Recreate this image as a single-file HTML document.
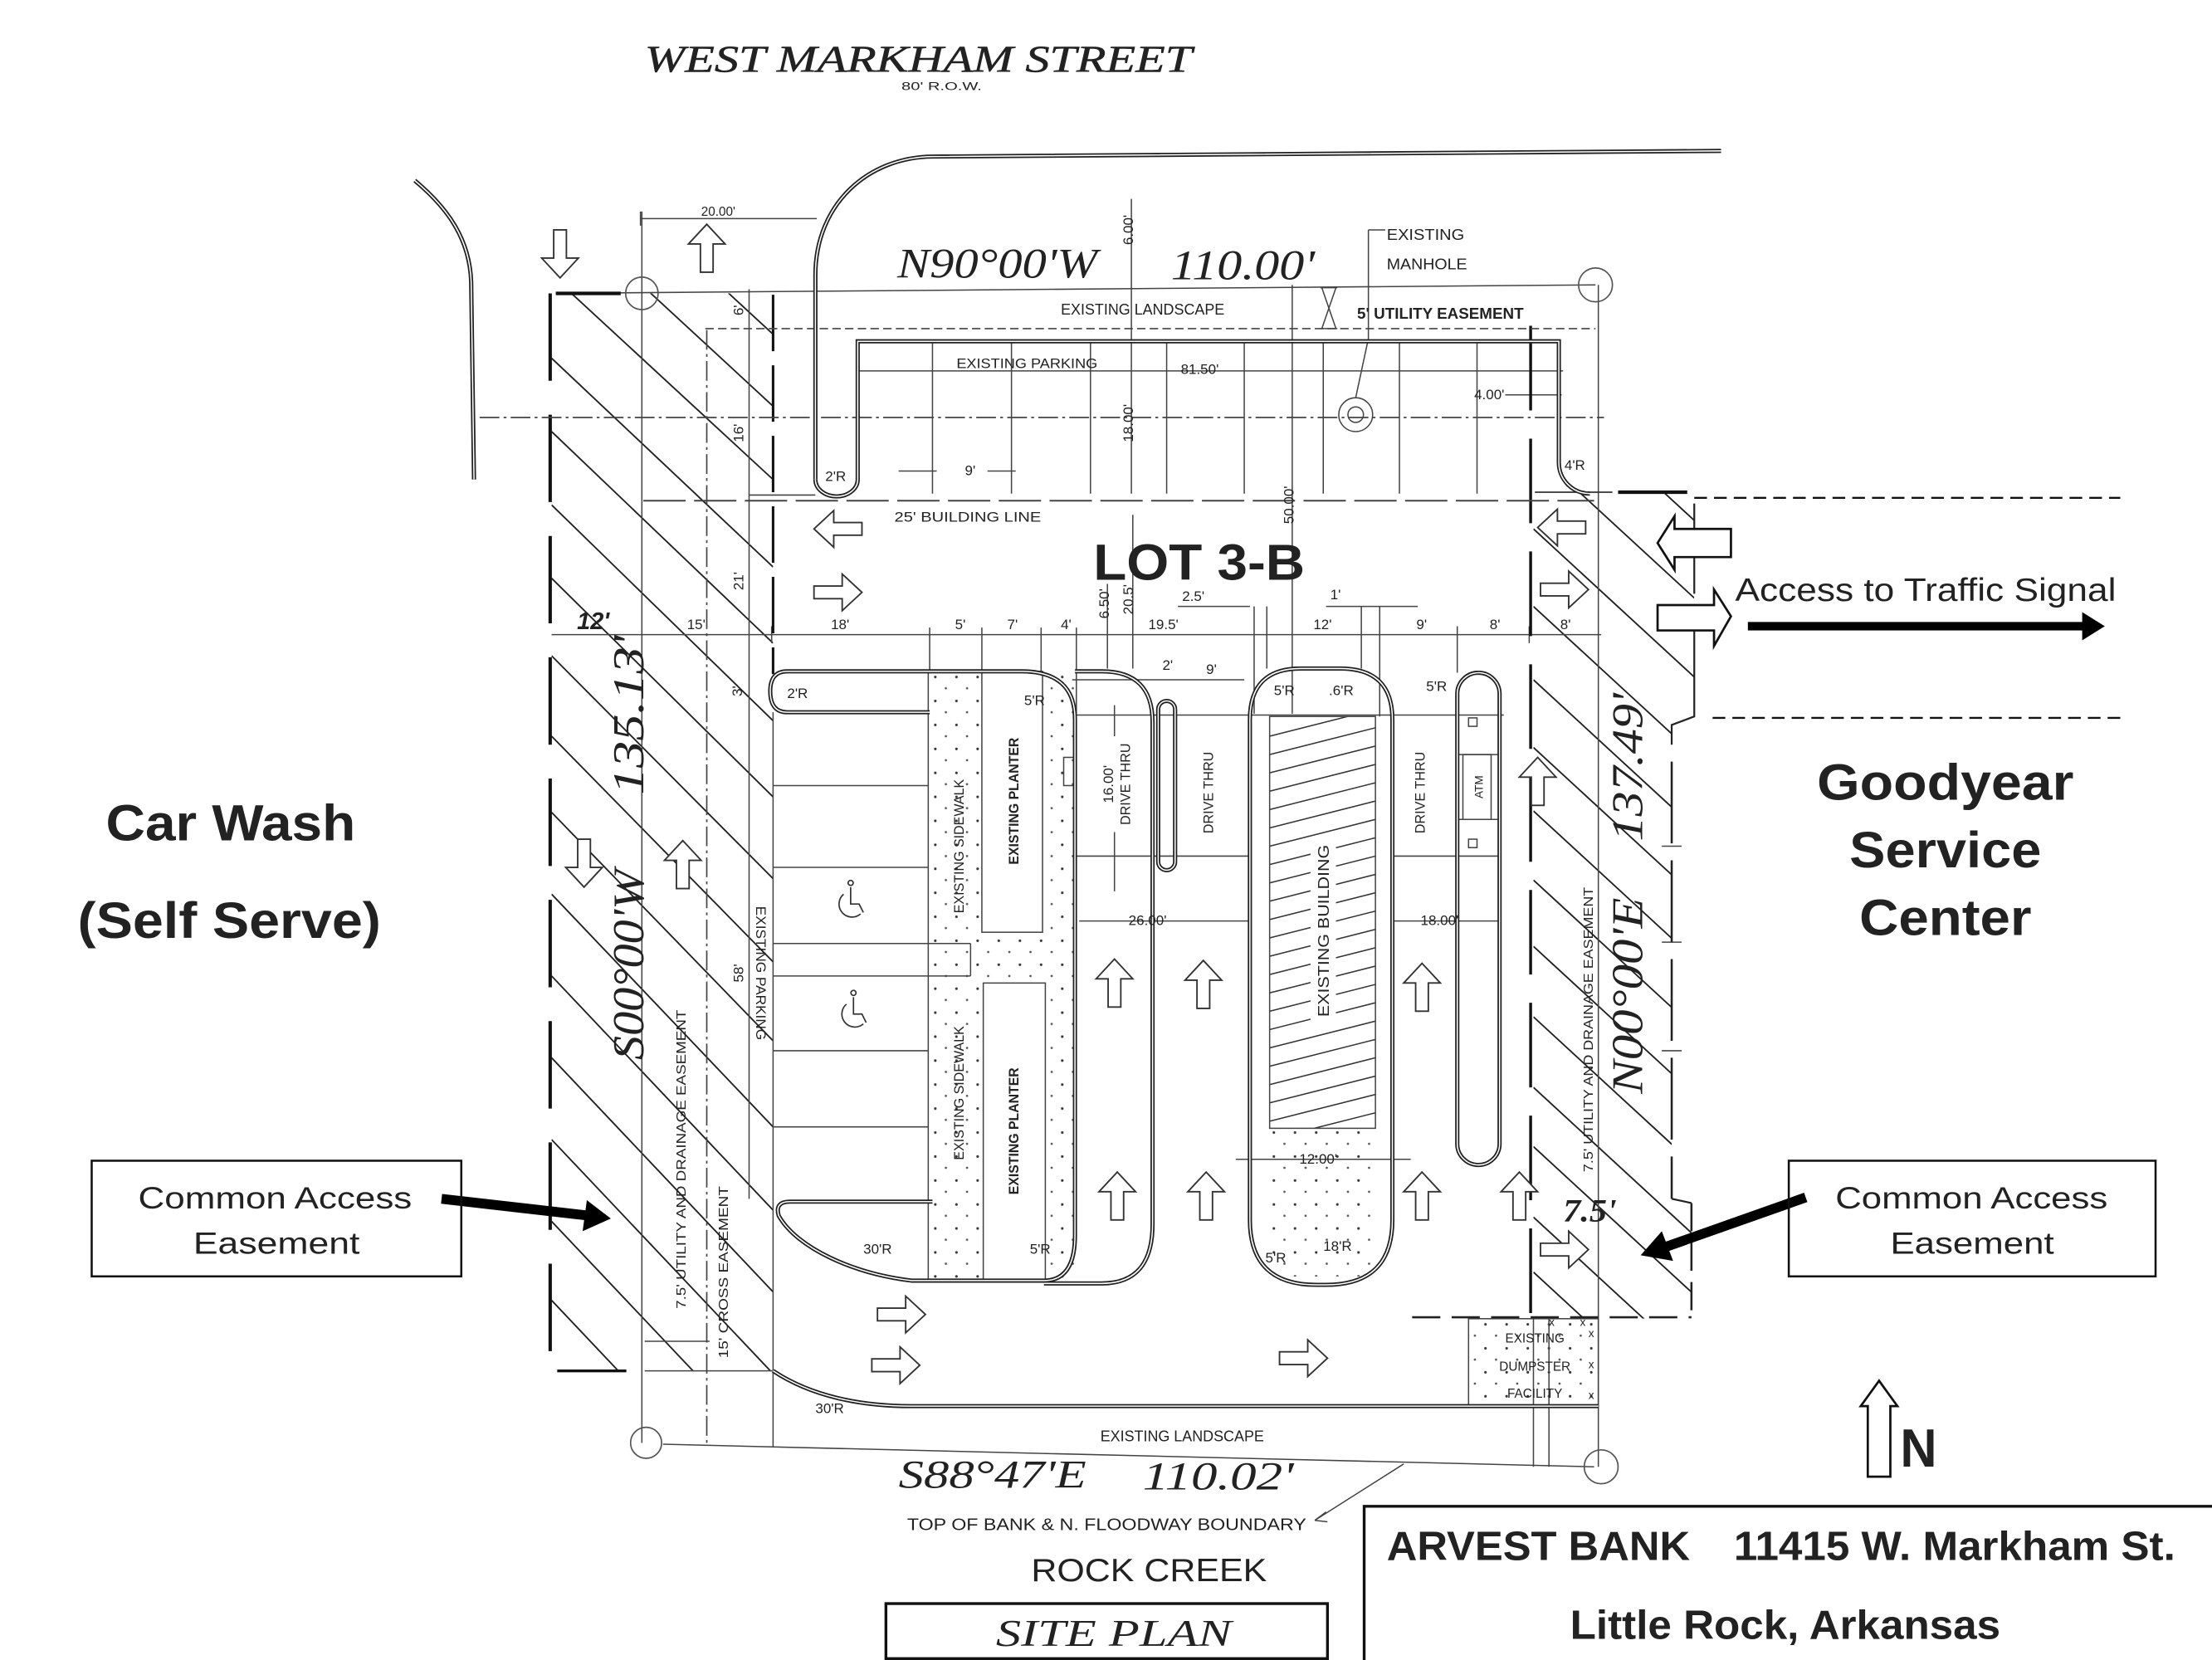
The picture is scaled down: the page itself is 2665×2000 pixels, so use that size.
<!DOCTYPE html>
<html><head><meta charset="utf-8">
<style>
html,body{margin:0;padding:0;background:#fff;}
svg{display:block;}
text{font-family:"Liberation Sans",Arial,sans-serif;fill:#222;}
.sr{font-family:"Liberation Serif",serif;font-style:italic;}
.s{font-size:10px;fill:#333;}
</style></head><body>
<svg xmlns="http://www.w3.org/2000/svg" width="2665" height="2000" viewBox="0 0 1568 1177" preserveAspectRatio="none">
<defs>
<path id="ar" d="M-17,-4.5 L3,-4.5 L3,-13 L17,0 L3,13 L3,4.5 L-17,4.5 Z" fill="#fff" stroke="#333" stroke-width="1.1"/>
<pattern id="dots" width="15" height="17" patternUnits="userSpaceOnUse"><circle cx="3" cy="4" r="0.9" fill="#333"/><circle cx="10.5" cy="12" r="0.8" fill="#555"/></pattern>
<clipPath id="cl"><rect x="391" y="208" width="157" height="764"/></clipPath>
<clipPath id="cr"><polygon points="1087,349 1201,349 1201,508 1185,514 1185,850 1199,853 1199,935 1087,935"/></clipPath>
<clipPath id="cb"><rect x="900" y="508" width="75" height="292"/></clipPath>
</defs>
<rect width="1568" height="1177" fill="#fff"/>

<!-- stipple areas -->
<rect x="658" y="476" width="104" height="432" fill="url(#dots)"/>
<rect x="696" y="476" width="43" height="185" fill="#fff"/>
<rect x="697" y="697" width="44" height="211" fill="#fff"/>
<rect x="900" y="800" width="76" height="105" fill="url(#dots)"/>
<rect x="1041" y="935" width="92" height="62" fill="url(#dots)"/>

<!-- hatching -->
<g stroke="#222" stroke-width="1.1" clip-path="url(#cl)">
<line x1="391" y1="92" x2="548" y2="237"/><line x1="391" y1="143" x2="548" y2="288"/>
<line x1="391" y1="195" x2="548" y2="340"/><line x1="391" y1="254" x2="548" y2="402"/>
<line x1="391" y1="306" x2="548" y2="456"/><line x1="391" y1="358" x2="548" y2="511"/>
<line x1="391" y1="410" x2="548" y2="565"/><line x1="391" y1="465" x2="548" y2="623"/>
<line x1="391" y1="522" x2="548" y2="682"/><line x1="391" y1="576" x2="548" y2="738"/>
<line x1="391" y1="634" x2="548" y2="799"/><line x1="391" y1="692" x2="548" y2="858"/>
<line x1="391" y1="750" x2="548" y2="916"/><line x1="391" y1="808" x2="548" y2="974"/>
<line x1="391" y1="866" x2="548" y2="1032"/><line x1="391" y1="922" x2="548" y2="1088"/>
</g>
<g stroke="#222" stroke-width="1.1" clip-path="url(#cr)">
<line x1="1087" y1="264" x2="1201" y2="369"/><line x1="1087" y1="319" x2="1201" y2="424"/>
<line x1="1087" y1="375" x2="1201" y2="480"/><line x1="1087" y1="430" x2="1201" y2="535"/>
<line x1="1087" y1="482" x2="1201" y2="587"/><line x1="1087" y1="530" x2="1201" y2="635"/>
<line x1="1087" y1="575" x2="1201" y2="680"/><line x1="1087" y1="624" x2="1201" y2="729"/>
<line x1="1087" y1="671" x2="1201" y2="776"/><line x1="1087" y1="721" x2="1201" y2="826"/>
<line x1="1087" y1="771" x2="1201" y2="876"/><line x1="1087" y1="813" x2="1201" y2="918"/>
<line x1="1087" y1="863" x2="1201" y2="968"/><line x1="1087" y1="902" x2="1201" y2="1007"/>
</g>
<g stroke="#333" stroke-width="0.9" clip-path="url(#cb)">
<line x1="900" y1="522" x2="975" y2="503"/><line x1="900" y1="535" x2="975" y2="516"/>
<line x1="900" y1="548" x2="975" y2="529"/><line x1="900" y1="561" x2="975" y2="542"/>
<line x1="900" y1="574" x2="975" y2="555"/><line x1="900" y1="587" x2="975" y2="568"/>
<line x1="900" y1="600" x2="975" y2="581"/><line x1="900" y1="613" x2="975" y2="594"/>
<line x1="900" y1="626" x2="975" y2="607"/><line x1="900" y1="639" x2="975" y2="620"/>
<line x1="900" y1="652" x2="975" y2="633"/><line x1="900" y1="665" x2="975" y2="646"/>
<line x1="900" y1="678" x2="975" y2="659"/><line x1="900" y1="691" x2="975" y2="672"/>
<line x1="900" y1="704" x2="975" y2="685"/><line x1="900" y1="717" x2="975" y2="698"/>
<line x1="900" y1="730" x2="975" y2="711"/><line x1="900" y1="743" x2="975" y2="724"/>
<line x1="900" y1="756" x2="975" y2="737"/><line x1="900" y1="769" x2="975" y2="750"/>
<line x1="900" y1="782" x2="975" y2="763"/><line x1="900" y1="795" x2="975" y2="776"/>
<line x1="900" y1="808" x2="975" y2="789"/><line x1="900" y1="821" x2="975" y2="802"/>
</g>
<rect x="929" y="596" width="18" height="128" fill="#fff"/>

<!-- thin lines -->
<g stroke="#444" stroke-width="0.9" fill="none">
<path d="M394,208 L1131,202"/>
<path d="M455,150 L455,1023"/>
<path d="M454,155 L579,155 M454,150 L454,160"/>
<path d="M531,205 L531,850"/>
<path d="M802,141 L802,350"/>
<path d="M916,202 L916,506"/>
<path d="M1133,202 L1133,1040"/>
<path d="M1098,935 L1098,1040 M1087,935 L1087,1040"/>
<path d="M607,263 L1108,263"/>
<path d="M661,243 L661,350 M717,243 L717,350 M773,243 L773,350 M827,243 L827,350 M882,243 L882,350 M938,243 L938,350 M992,243 L992,350 M1047,243 L1047,350"/>
<path d="M531,351 L578,351"/>
<path d="M637,334 L664,334 M700,334 L720,334"/>
<path d="M1067,280 L1107,280"/>
<path d="M391,450 L1135,450"/>
<path d="M547,444 L547,456 M659,445 L659,476 M696,445 L696,476 M738,445 L738,476 M763,445 L763,506 M785,414 L785,474 M803,365 L803,474 M889,430 L889,506 M898,430 L898,474 M965,430 L965,474 M978,430 L978,508 M1033,444 L1033,477 M1084,444 L1084,456"/>
<path d="M835,430 L886,430 M940,430 L1005,430"/>
<path d="M762,507 L1066,507"/>
<path d="M762,607 L886,607 M987,607 L1063,607"/>
<path d="M765,653 L886,653 M987,653 L1063,653"/>
<path d="M760,482 L882,482"/>
<path d="M790,500 L790,522 M790,590 L790,632"/>
<rect x="900" y="508" width="75" height="292"/>
<path d="M876,822 L1000,822"/>
<path d="M470,1024 L1130,1040"/>
<path d="M457,972 L548,972 M457,951 L503,951"/>
<path d="M548,852 L548,1026"/>
<path d="M548,505 L548,852"/>
<path d="M548,557 L658,557 M548,615 L658,615 M548,669 L688,669 M548,692 L688,692 M548,745 L658,745 M548,799 L658,799"/>
<path d="M688,669 L688,692"/>
<path d="M658,476 L658,908"/>
<rect x="696" y="476" width="43" height="185"/>
<rect x="697" y="697" width="44" height="211"/>
<rect x="754" y="537" width="8" height="20"/>
<rect x="1037" y="535" width="20" height="46"/>
<rect x="1041" y="509" width="6" height="6"/>
<rect x="1041" y="595" width="6" height="6"/>
<path d="M1033,535 L1063,535 M1033,581 L1063,581"/>
<path d="M970,163 L982,163 M970,163 L970,240 L961,282"/>
<circle cx="961" cy="294" r="12"/><circle cx="961" cy="294" r="5.5"/>
<path d="M937,204 L947,233 M947,204 L937,233 M936,204 L948,204 M936,233 L948,233"/>
<path d="M932,1078 L995,1038 M932,1078 L940,1072 M932,1078 L941,1079"/>
<rect x="1041" y="935" width="92" height="62"/>
<path d="M1178,600 L1192,600 M1178,668 L1192,668 M1178,745 L1192,745"/>
</g>
<g stroke="#555" stroke-width="1" fill="none">
<circle cx="455" cy="208" r="11.5"/>
<circle cx="1131" cy="202" r="12"/>
<circle cx="458" cy="1023" r="11"/>
<circle cx="1135" cy="1040" r="12"/>
</g>

<!-- dashed lines -->
<g fill="none">
<path d="M390,208 L390,974" stroke="#111" stroke-width="2.4" stroke-dasharray="62 24"/>
<path d="M548,209 L548,478" stroke="#111" stroke-width="1.8" stroke-dasharray="40 10"/>
<path d="M501,234 L501,1023" stroke="#444" stroke-width="1" stroke-dasharray="14 3 2 3"/>
<path d="M1085,231 L1085,935" stroke="#111" stroke-width="2" stroke-dasharray="60 20"/>
<path d="M500,233 L1131,233" stroke="#444" stroke-width="1" stroke-dasharray="6 3"/>
<path d="M340,296 L1137,296" stroke="#444" stroke-width="1" stroke-dasharray="14 3 2 3"/>
<path d="M456,355 L1130,355" stroke="#444" stroke-width="1.2" stroke-dasharray="30 6"/>
<path d="M1201,353 L1503,353 M1214,509 L1503,509" stroke="#111" stroke-width="1.4" stroke-dasharray="9 5"/>
<path d="M1001,934 L1199,934" stroke="#222" stroke-width="1.5" stroke-dasharray="20 8"/>
<path d="M1201,357 L1201,421 M1201,435 L1201,508 L1185,514 L1185,528" stroke="#222" stroke-width="1.3"/>
<path d="M1185,540 L1185,850" stroke="#222" stroke-width="1.5" stroke-dasharray="58 12"/>
<path d="M1185,850 L1199,853" stroke="#222" stroke-width="1.3"/>
<path d="M1199,853 L1199,934" stroke="#222" stroke-width="1.5" stroke-dasharray="20 8"/>
<path d="M1088,349 L1143,349" stroke="#333" stroke-width="1"/>
<path d="M1147,349 L1196,349" stroke="#111" stroke-width="2.5"/>
<path d="M394,208 L440,208" stroke="#111" stroke-width="2.5"/>
<path d="M395,972 L444,972" stroke="#111" stroke-width="2"/>
</g>

<!-- curbs (double lines) -->
<g fill="none" stroke="#222" stroke-width="3">
<path d="M294,128 C318,148 333,170 334,200 L336,340"/>
<path d="M578,340 L578,195 C578,145 615,111 662,111 L1220,107"/>
<path d="M578,340 A15,12 0 0 0 608,340 L608,242 L1105,242 L1105,328 A22,22 0 0 0 1127,350"/>
<path d="M661,852 L560,852 Q549,852 552,862 C565,885 605,903 646,908 L740,908 Q762,908 762,876 L762,510 Q762,476 724,476 L558,476 Q546,476 546,490 Q546,505 558,505 L659,505"/>
<path d="M762,476 L781,476 Q817,476 817,512 L817,868 Q817,910 781,910 L740,910"/>
<path d="M886,865 L886,510 Q886,474 922,474 L950,474 Q987,474 987,510 L987,865 Q987,911 940,911 L933,911 Q886,911 886,865 Z"/>
<rect x="1033" y="477" width="30" height="349" rx="15"/>
<rect x="821" y="497" width="12" height="120" rx="6"/>
<path d="M548,972 C575,990 610,997 646,997 L1133,997"/>
</g>
<g fill="none" stroke="#fff" stroke-width="0.9">
<path d="M294,128 C318,148 333,170 334,200 L336,340"/>
<path d="M578,340 L578,195 C578,145 615,111 662,111 L1220,107"/>
<path d="M578,340 A15,12 0 0 0 608,340 L608,242 L1105,242 L1105,328 A22,22 0 0 0 1127,350"/>
<path d="M661,852 L560,852 Q549,852 552,862 C565,885 605,903 646,908 L740,908 Q762,908 762,876 L762,510 Q762,476 724,476 L558,476 Q546,476 546,490 Q546,505 558,505 L659,505"/>
<path d="M762,476 L781,476 Q817,476 817,512 L817,868 Q817,910 781,910 L740,910"/>
<path d="M886,865 L886,510 Q886,474 922,474 L950,474 Q987,474 987,510 L987,865 Q987,911 940,911 L933,911 Q886,911 886,865 Z"/>
<rect x="1033" y="477" width="30" height="349" rx="15"/>
<rect x="821" y="497" width="12" height="120" rx="6"/>
<path d="M548,972 C575,990 610,997 646,997 L1133,997"/>
</g>

<!-- handicap symbols -->
<g fill="none" stroke="#333" stroke-width="1">
<circle cx="603" cy="626" r="1.8"/><path d="M603,629 L603,641 L609,641 L612,647"/><path d="M598,634 A8,8 0 1 0 610,648"/>
<circle cx="605" cy="704" r="1.8"/><path d="M605,707 L605,719 L611,719 L614,725"/><path d="M600,712 A8,8 0 1 0 612,726"/>
</g>

<!-- block arrows -->
<use href="#ar" transform="translate(501,176) rotate(-90)"/>
<use href="#ar" transform="translate(484,613) rotate(-90)"/>
<use href="#ar" transform="translate(790,697) rotate(-90)"/>
<use href="#ar" transform="translate(853,698) rotate(-90)"/>
<use href="#ar" transform="translate(1008,700) rotate(-90)"/>
<use href="#ar" transform="translate(792,848) rotate(-90)"/>
<use href="#ar" transform="translate(855,848) rotate(-90)"/>
<use href="#ar" transform="translate(1008,848) rotate(-90)"/>
<use href="#ar" transform="translate(1077,848) rotate(-90)"/>
<use href="#ar" transform="translate(1090,554) rotate(-90)"/>
<use href="#ar" transform="translate(397,180) rotate(90)"/>
<use href="#ar" transform="translate(414,612) rotate(90)"/>
<use href="#ar" transform="translate(594,375) rotate(180)"/>
<use href="#ar" transform="translate(1107,374) rotate(180)"/>
<use href="#ar" transform="translate(594,420)"/>
<use href="#ar" transform="translate(1109,418)"/>
<use href="#ar" transform="translate(639,932)"/>
<use href="#ar" transform="translate(635,968)"/>
<use href="#ar" transform="translate(924,963)"/>
<use href="#ar" transform="translate(1109,886)"/>

<!-- big arrows right -->
<path d="M1175,385 L1187,366 L1187,375 L1227,375 L1227,395 L1187,395 L1187,404 Z" fill="#fff" stroke="#111" stroke-width="1.6"/>
<path d="M1175,429 L1215,429 L1215,418 L1227,437 L1215,458 L1215,447 L1175,447 Z" fill="#fff" stroke="#111" stroke-width="1.6"/>
<!-- solid arrows -->
<rect x="1239" y="441" width="238" height="6" fill="#000"/>
<polygon points="1476,434 1492,444 1476,454" fill="#000"/>
<path d="M313,850 L418,862" stroke="#000" stroke-width="7"/>
<polygon points="433,864 413,873 416,851" fill="#000"/>
<path d="M1280,849 L1181,884" stroke="#000" stroke-width="7"/>
<polygon points="1163,890 1186,894 1178,873" fill="#000"/>
<!-- north arrow -->
<path d="M1332,979 L1345,997 L1340,997 L1340,1047 L1324,1047 L1324,997 L1319,997 Z" fill="#fff" stroke="#111" stroke-width="1.6"/>

<!-- boxes -->
<rect x="65" y="823" width="262" height="82" fill="none" stroke="#111" stroke-width="1.5"/>
<rect x="1268" y="823" width="260" height="82" fill="none" stroke="#111" stroke-width="1.5"/>
<path d="M967,1177 L967,1068 L1568,1068" fill="none" stroke="#111" stroke-width="2"/>
<rect x="628" y="1137" width="313" height="39" fill="none" stroke="#111" stroke-width="2"/>

<!-- big texts -->
<text class="sr" x="457" y="51" font-size="27" textLength="388" lengthAdjust="spacingAndGlyphs" stroke="#222" stroke-width="0.3">WEST  MARKHAM  STREET</text>
<text x="639" y="64" font-size="8" textLength="57" lengthAdjust="spacingAndGlyphs">80' R.O.W.</text>
<text class="sr" x="636" y="197" font-size="30" textLength="142" lengthAdjust="spacingAndGlyphs" fill="#111">N90°00'W</text>
<text class="sr" x="830" y="198" font-size="30" textLength="102" lengthAdjust="spacingAndGlyphs" fill="#111">110.00'</text>
<text class="sr" x="637" y="1055" font-size="28" textLength="133" lengthAdjust="spacingAndGlyphs" fill="#111">S88°47'E</text>
<text class="sr" x="810" y="1056" font-size="28" textLength="107" lengthAdjust="spacingAndGlyphs" fill="#111">110.02'</text>
<text class="sr" transform="translate(456,507) rotate(-90)" text-anchor="middle" font-size="31" textLength="113" lengthAdjust="spacingAndGlyphs" fill="#111">135.13'</text>
<text class="sr" transform="translate(456,684) rotate(-90)" text-anchor="middle" font-size="31" textLength="135" lengthAdjust="spacingAndGlyphs" fill="#111">S00°00'W</text>
<text class="sr" transform="translate(1164,544) rotate(-90)" text-anchor="middle" font-size="31" textLength="105" lengthAdjust="spacingAndGlyphs" fill="#111">137.49'</text>
<text class="sr" transform="translate(1164,706) rotate(-90)" text-anchor="middle" font-size="31" textLength="139" lengthAdjust="spacingAndGlyphs" fill="#111">N00°00'E</text>
<text x="409" y="446" font-size="17" font-weight="bold" font-style="italic">12'</text>
<text class="sr" x="1108" y="866" font-size="23" font-weight="bold" textLength="38" lengthAdjust="spacingAndGlyphs">7.5'</text>

<text x="775" y="411" font-size="36" font-weight="bold" textLength="150" lengthAdjust="spacingAndGlyphs" fill="#000">LOT 3-B</text>
<text x="75" y="596" font-size="36" font-weight="bold" textLength="177" lengthAdjust="spacingAndGlyphs" fill="#000">Car Wash</text>
<text x="55" y="665" font-size="36" font-weight="bold" textLength="215" lengthAdjust="spacingAndGlyphs" fill="#000">(Self Serve)</text>
<text x="1288" y="567" font-size="36" font-weight="bold" textLength="182" lengthAdjust="spacingAndGlyphs" fill="#000">Goodyear</text>
<text x="1311" y="615" font-size="36" font-weight="bold" textLength="136" lengthAdjust="spacingAndGlyphs" fill="#000">Service</text>
<text x="1318" y="663" font-size="36" font-weight="bold" textLength="122" lengthAdjust="spacingAndGlyphs" fill="#000">Center</text>
<text x="1230" y="426" font-size="23" textLength="270" lengthAdjust="spacingAndGlyphs" fill="#000">Access to Traffic Signal</text>
<text x="98" y="857" font-size="22" textLength="194" lengthAdjust="spacingAndGlyphs" fill="#000">Common Access</text>
<text x="137" y="889" font-size="22" textLength="118" lengthAdjust="spacingAndGlyphs" fill="#000">Easement</text>
<text x="1301" y="857" font-size="22" textLength="193" lengthAdjust="spacingAndGlyphs" fill="#000">Common Access</text>
<text x="1340" y="889" font-size="22" textLength="116" lengthAdjust="spacingAndGlyphs" fill="#000">Easement</text>
<text x="983" y="1106" font-size="29" font-weight="bold" textLength="215" lengthAdjust="spacingAndGlyphs" fill="#000">ARVEST BANK</text>
<text x="1229" y="1106" font-size="29" font-weight="bold" textLength="313" lengthAdjust="spacingAndGlyphs" fill="#000">11415 W. Markham St.</text>
<text x="1113" y="1162" font-size="29" font-weight="bold" textLength="305" lengthAdjust="spacingAndGlyphs" fill="#000">Little Rock, Arkansas</text>
<text x="1347" y="1040" font-size="38" font-weight="bold" textLength="26" lengthAdjust="spacingAndGlyphs" fill="#000">N</text>
<text class="sr" x="706" y="1167" font-size="27" textLength="167" lengthAdjust="spacingAndGlyphs" fill="#111">SITE  PLAN</text>
<text x="731" y="1121" font-size="23" textLength="167" lengthAdjust="spacingAndGlyphs" fill="#555">ROCK  CREEK</text>
<text x="643" y="1085" font-size="12" textLength="283" lengthAdjust="spacingAndGlyphs" fill="#333">TOP OF BANK &amp; N. FLOODWAY BOUNDARY</text>

<!-- small labels -->
<g class="s">
<text x="497" y="153" font-size="9">20.00'</text>
<text x="752" y="223" font-size="11" textLength="116" lengthAdjust="spacingAndGlyphs">EXISTING LANDSCAPE</text>
<text x="962" y="226" font-size="11" font-weight="bold" textLength="118" lengthAdjust="spacingAndGlyphs">5' UTILITY EASEMENT</text>
<text x="983" y="170" font-size="11" textLength="55" lengthAdjust="spacingAndGlyphs">EXISTING</text>
<text x="983" y="191" font-size="11" textLength="57" lengthAdjust="spacingAndGlyphs">MANHOLE</text>
<text x="678" y="261" textLength="100" lengthAdjust="spacingAndGlyphs">EXISTING PARKING</text>
<text x="837" y="265">81.50'</text>
<text x="1045" y="283">4.00'</text>
<text x="684" y="337">9'</text>
<text x="585" y="341">2'R</text>
<text x="1109" y="333">4'R</text>
<text x="634" y="370" textLength="104" lengthAdjust="spacingAndGlyphs">25' BUILDING LINE</text>
<text transform="translate(803,163) rotate(-90)" text-anchor="middle">6.00'</text>
<text transform="translate(803,300) rotate(-90)" text-anchor="middle">18.00'</text>
<text transform="translate(917,358) rotate(-90)" text-anchor="middle">50.00'</text>
<text transform="translate(527,220) rotate(-90)" text-anchor="middle">6'</text>
<text transform="translate(527,307) rotate(-90)" text-anchor="middle">16'</text>
<text transform="translate(527,412) rotate(-90)" text-anchor="middle">21'</text>
<text transform="translate(526,490) rotate(-90)" text-anchor="middle">3'</text>
<text transform="translate(527,690) rotate(-90)" text-anchor="middle">58'</text>
<text transform="translate(786,428) rotate(-90)" text-anchor="middle">6.50'</text>
<text transform="translate(803,425) rotate(-90)" text-anchor="middle">20.5'</text>
<text x="487" y="446">15'</text>
<text x="589" y="446">18'</text>
<text x="677" y="446">5'</text>
<text x="714" y="446">7'</text>
<text x="752" y="446">4'</text>
<text x="814" y="446">19.5'</text>
<text x="931" y="446">12'</text>
<text x="1004" y="446">9'</text>
<text x="1056" y="446">8'</text>
<text x="1106" y="446">8'</text>
<text x="838" y="426">2.5'</text>
<text x="943" y="425">1'</text>
<text x="558" y="495">2'R</text>
<text x="726" y="500">5'R</text>
<text x="824" y="475">2'</text>
<text x="855" y="478">9'</text>
<text x="903" y="493">5'R</text>
<text x="942" y="493">.6'R</text>
<text x="1011" y="490">5'R</text>
<text x="800" y="656">26.00'</text>
<text x="1007" y="656">18.00'</text>
<text x="921" y="825">12.00'</text>
<text x="897" y="895">5'R</text>
<text x="938" y="887">18'R</text>
<text x="730" y="889">5'R</text>
<text x="612" y="889">30'R</text>
<text x="578" y="1002">30'R</text>
<text x="780" y="1022" font-size="11" textLength="116" lengthAdjust="spacingAndGlyphs">EXISTING LANDSCAPE</text>
<text transform="translate(683,600) rotate(-90)" text-anchor="middle" textLength="95" lengthAdjust="spacingAndGlyphs">EXISTING SIDEWALK</text>
<text transform="translate(683,775) rotate(-90)" text-anchor="middle" textLength="95" lengthAdjust="spacingAndGlyphs">EXISTING SIDEWALK</text>
<text transform="translate(722,568) rotate(-90)" text-anchor="middle" font-weight="bold" textLength="90" lengthAdjust="spacingAndGlyphs">EXISTING PLANTER</text>
<text transform="translate(722,802) rotate(-90)" text-anchor="middle" font-weight="bold" textLength="90" lengthAdjust="spacingAndGlyphs">EXISTING PLANTER</text>
<text transform="translate(536,690) rotate(90)" text-anchor="middle" textLength="95" lengthAdjust="spacingAndGlyphs">EXISTING PARKING</text>
<text transform="translate(789,556) rotate(-90)" text-anchor="middle">16.00'</text>
<text transform="translate(801,556) rotate(-90)" text-anchor="middle" textLength="58" lengthAdjust="spacingAndGlyphs">DRIVE THRU</text>
<text transform="translate(860,562) rotate(-90)" text-anchor="middle" textLength="58" lengthAdjust="spacingAndGlyphs">DRIVE THRU</text>
<text transform="translate(1010,562) rotate(-90)" text-anchor="middle" textLength="58" lengthAdjust="spacingAndGlyphs">DRIVE THRU</text>
<text transform="translate(1051,558) rotate(-90)" text-anchor="middle" font-size="8">ATM</text>
<text transform="translate(942,660) rotate(-90)" text-anchor="middle" font-size="11" textLength="122" lengthAdjust="spacingAndGlyphs">EXISTING BUILDING</text>
<text transform="translate(1129,730) rotate(-90)" text-anchor="middle" font-size="9.5" textLength="202" lengthAdjust="spacingAndGlyphs">7.5' UTILITY AND DRAINAGE EASEMENT</text>
<text transform="translate(486,822) rotate(-90)" text-anchor="middle" font-size="9.5" textLength="212" lengthAdjust="spacingAndGlyphs">7.5' UTILITY AND DRAINAGE EASEMENT</text>
<text transform="translate(516,902) rotate(-90)" text-anchor="middle" font-size="9.5" textLength="122" lengthAdjust="spacingAndGlyphs">15' CROSS EASEMENT</text>
<text x="1088" y="952" text-anchor="middle" font-size="9">EXISTING</text>
<text x="1088" y="972" text-anchor="middle" font-size="9">DUMPSTER</text>
<text x="1088" y="991" text-anchor="middle" font-size="9">FACILITY</text>
<text x="1126" y="948" font-size="8">x</text>
<text x="1126" y="970" font-size="8">x</text>
<text x="1126" y="992" font-size="8">x</text>
<text x="1098" y="940" font-size="8">x</text>
<text x="1120" y="940" font-size="8">x</text>
</g>
</svg>
</body></html>
